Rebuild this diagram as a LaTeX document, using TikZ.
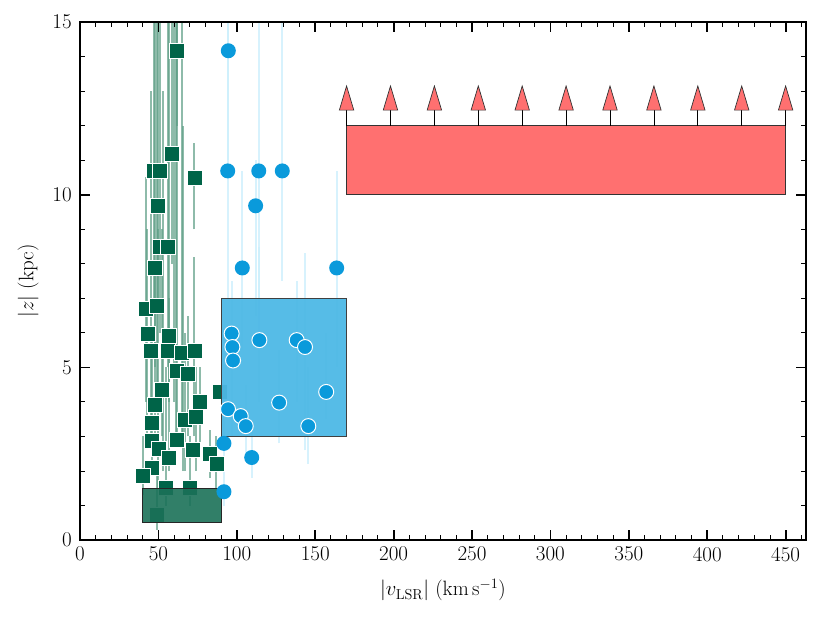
\documentclass[tikz,border=0pt]{standalone}
\usepackage{amsmath}
\begin{document}
\begin{tikzpicture}[x=1.568pt,y=34.53pt,
  sq/.style={fill=sqgreen,draw=white,line width=0.8pt,minimum size=15pt,inner sep=0pt,rectangle},
  dot/.style={fill=dotblue,draw=white,line width=1pt,circle,minimum size=15pt,inner sep=0pt},
  dotn/.style={fill=dotblue,draw=none,circle,minimum size=15pt,inner sep=0pt},
  gbar/.style={draw=barg,line width=2pt,opacity=0.7},
  bbar/.style={draw=barb,line width=2pt,opacity=0.8},
  lab/.style={font=\fontsize{21}{25}\selectfont}]
\definecolor{sqgreen}{HTML}{006448}
\definecolor{barg}{HTML}{5E9E86}
\definecolor{barb}{HTML}{CDEFFC}
\definecolor{dotblue}{HTML}{0A9ADB}
\definecolor{boxblue}{HTML}{4DB8E6}
\definecolor{boxred}{HTML}{FF7070}
\definecolor{boxgreen}{HTML}{1B7158}
\useasboundingbox (-51.02,-2.404) rectangle (478.3,15.64);
\begin{scope}
\clip (0,0) rectangle (463,15);
% red box and arrows
\draw[fill=boxred,draw=black!80,line width=0.8pt] (170,10) rectangle (450,12);
\foreach \a in {170,198,...,450}{
  \draw[black,line width=0.8pt] (\a,12) -- (\a,12.55);
  \draw[fill=boxred,draw=black!80,line width=0.7pt] (\a-4.6,12.45) -- (\a,13.15) -- (\a+4.6,12.45) -- cycle;
}
% blue error bars
\foreach \x/\lo/\hi in {94.6/11/15, 94.2/7/15, 114/6/15, 129/7.5/15, 112/6.5/11, 103.5/5.5/10.7, 163.7/5/10.7, 97.2/3/7.5, 114.4/4/8.5, 138.2/4/7.5, 143.5/2.6/8.3, 127/2.8/5.5, 145.6/2.2/5, 105.7/2.5/4.5, 109.5/1.8/3.2, 91.8/1/3.5, 157/3.5/6}
  \draw[bbar] (\x,\lo) -- (\x,\hi);
% green error bars
\foreach \x/\lo/\hi in {62/12/15, 58.5/8/15, 51/6/15, 47/7/15, 73/9/11.5, 49.5/7/15, 56/5/15, 60/4/15, 48/5/15, 49/4/15, 42/4/10.5, 43/3/9, 57/4/15, 45/3/13, 65/3/15, 73/3/8.2, 62/3/15, 69/3/6.5, 52.5/3/9, 76.5/2.5/5, 48/2.5/8, 67/2/6, 74/2/5, 46/2/6, 50/1.5/9, 57/2/7, 83/1.8/3.2, 87/1.5/3, 40/1.3/3, 55/1/5, 70/1/3, 49/0.3/2, 53/2/13, 61/3/15, 66/2/12}
  \draw[gbar] (\x,\lo) -- (\x,\hi);
% green squares
\foreach \x/\y [count=\i] in {62/14.17, 58.5/11.17, 47/10.69, 51/10.69, 73/10.49, 49.5/9.68, 51/8.49, 56/8.49, 48/7.88, 42/6.69, 49/6.78, 43/5.98, 57/5.92, 45/5.49, 56/5.49, 65/5.42, 73/5.49, 62/4.91, 69/4.80, 89/4.29, 52.5/4.34, 76.5/4.0, 48/3.90, 67/3.48, 74/3.56, 46/3.39, 46/2.88, 62/2.90, 50/2.63, 72/2.61, 57/2.39, 83/2.49, 87/2.2, 46/2.1, 40/1.87, 55/1.51, 70/1.51, 49/0.73}
  \node[sq] (g\i) at (\x,\y) {};
% green box
\draw[fill=boxgreen,fill opacity=0.9,draw=black!85,line width=0.8pt] (40,0.5) rectangle (90,1.5);
% blue box
\draw[fill=boxblue,fill opacity=0.95,draw=black!75,line width=0.8pt] (90,3) rectangle (170,7);
% blue circles outside
\foreach \x/\y [count=\i] in {94.6/14.17, 94.2/10.69, 114/10.69, 129/10.69, 112/9.68, 103.5/7.88, 163.7/7.88, 91.8/2.80, 109.5/2.39, 91.8/1.40}
  \node[dotn] (bo\i) at (\x,\y) {};
% blue circles inside
\foreach \x/\y [count=\i] in {96.7/5.98, 97.2/5.59, 97.6/5.2, 114.4/5.79, 138.2/5.79, 143.5/5.59, 157/4.29, 127/3.98, 94.4/3.79, 102.5/3.59, 105.7/3.30, 145.6/3.30}
  \node[dot] (bi\i) at (\x,\y) {};
\end{scope}
% frame and ticks
\draw[line width=1.6pt] (0,0) rectangle (463,15);
\foreach \t in {0,10,...,460}{
  \draw[line width=0.9pt] (\t,0) -- ++(0,5pt);
  \draw[line width=0.9pt] (\t,15) -- ++(0,-5pt);}
\foreach \t in {0,50,...,450}{
  \draw[line width=1.8pt] (\t,0) -- ++(0,10pt);
  \draw[line width=1.8pt] (\t,15) -- ++(0,-10pt);
  \node[lab,anchor=north] (xl\t) at (\t,-0.1) {\t};}
\foreach \t in {0,1,...,15}{
  \draw[line width=0.9pt] (0,\t) -- ++(5pt,0);
  \draw[line width=0.9pt] (463,\t) -- ++(-5pt,0);}
\foreach \t in {0,5,10,15}{
  \draw[line width=1.8pt] (0,\t) -- ++(10pt,0);
  \draw[line width=1.8pt] (463,\t) -- ++(-10pt,0);
  \node[lab,anchor=east] (yl\t) at (-3,\t) {\t};}
\node[lab] (xlab) at (231.5,-1.45) {$|v_{\mathrm{LSR}}|$ $(\mathrm{km\,s^{-1}})$};
\node[lab,rotate=90] (ylab) at (-33,7.5) {$|z|$ (kpc)};
\end{tikzpicture}
\end{document}
